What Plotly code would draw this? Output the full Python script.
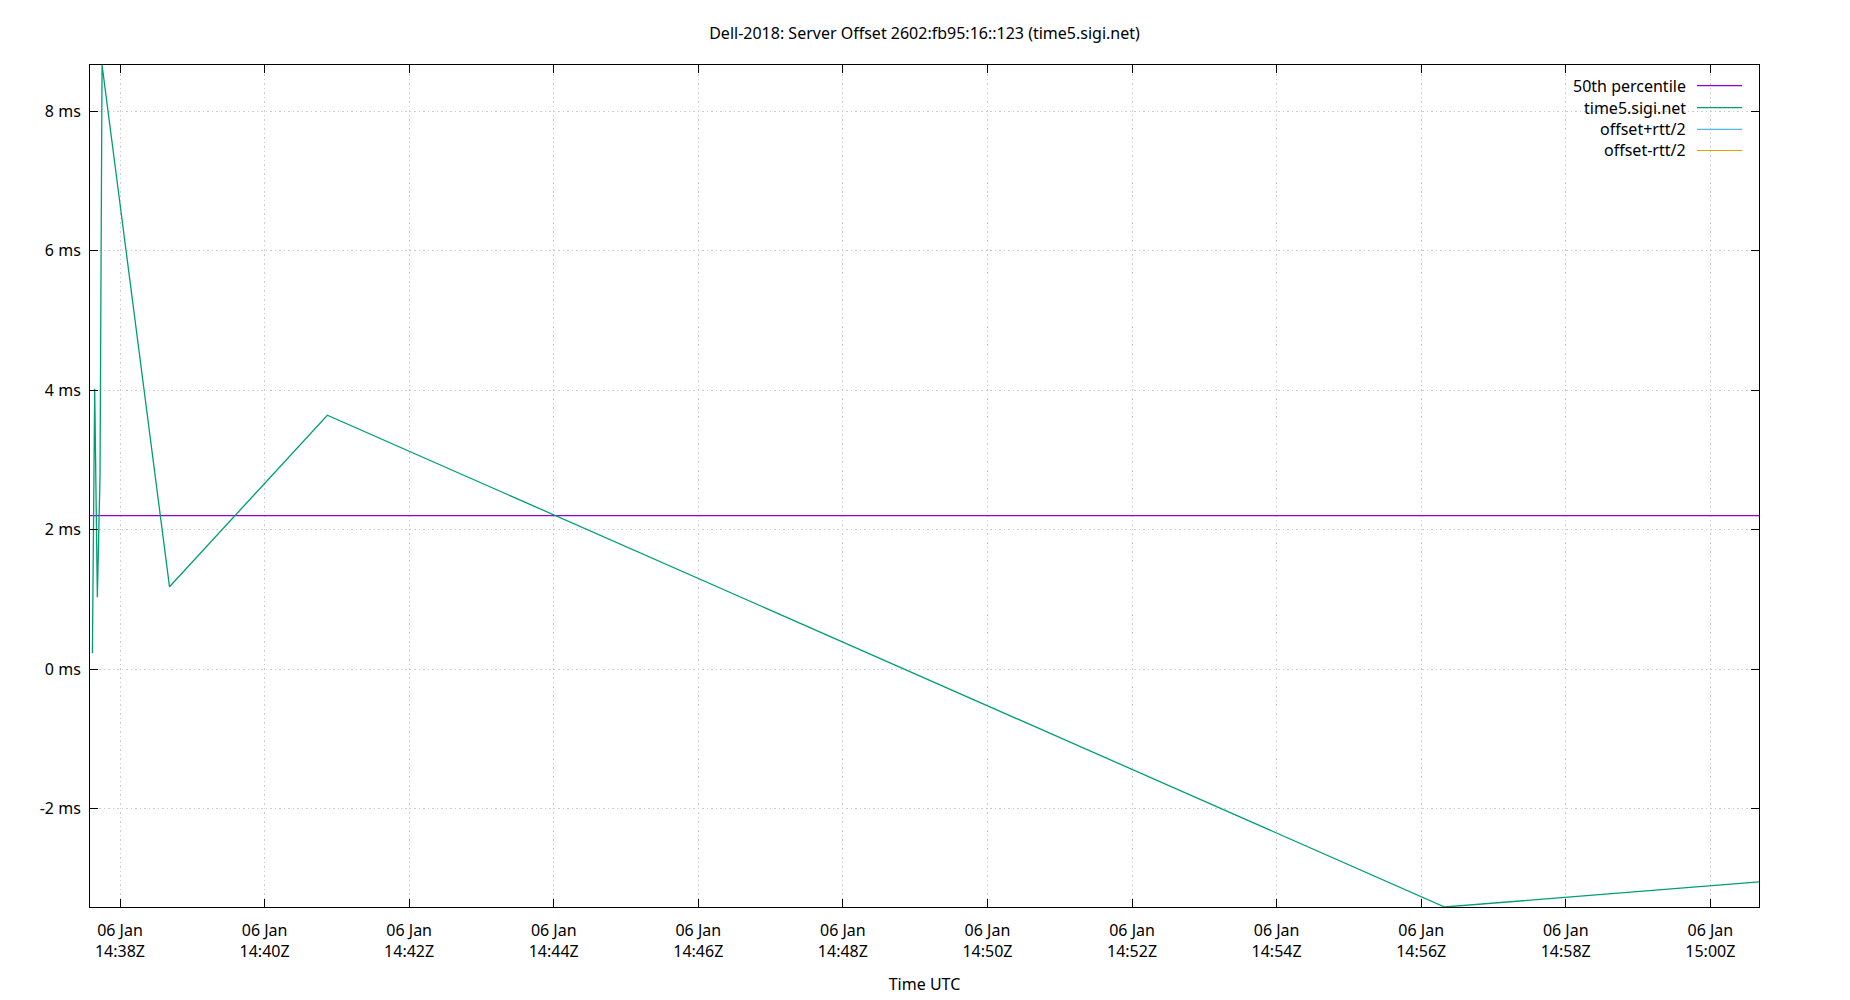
import plotly.graph_objects as go

# ---- data ----
offset_times = [
    "2025-01-06 14:37:37.1",
    "2025-01-06 14:37:39.0",
    "2025-01-06 14:37:41.2",
    "2025-01-06 14:37:43.4",
    "2025-01-06 14:37:45.1",
    "2025-01-06 14:38:41.1",
    "2025-01-06 14:40:52.1",
    "2025-01-06 14:56:19.5",
    "2025-01-06 15:00:40.4",
]
offset_ms = [0.23, 4.02, 1.03, 2.76, 8.66, 1.18, 3.64, -3.41, -3.05]

percentile_50_ms = 2.20

# series present in the legend, with no visible points
rtt_plus_times = []
rtt_plus_ms = []
rtt_minus_times = []
rtt_minus_ms = []

y_tick_vals = [-2, 0, 2, 4, 6, 8]
y_tick_text = ["-2 ms", "0 ms", "2 ms", "4 ms", "6 ms", "8 ms"]

legend_names = ["50th percentile", "time5.sigi.net", "offset+rtt/2", "offset-rtt/2"]
legend_colors = ["#9400d3", "#009e73", "#56b4e9", "#e69f00"]

x_range = ["2025-01-06 14:37:35.1", offset_times[-1]]

# ---- layout geometry (pixels) ----
W, H = 1850, 1000
L, R, T, B = 90, 91, 65, 93
PW, PH = W - L - R, H - T - B
FONT = "Noto Sans"


def px_x(px):
    return (px - L) / PW


def px_y(py):
    return (H - B - py) / PH


fig = go.Figure()

fig.add_trace(go.Scatter(
    x=[x_range[0], x_range[1]], y=[percentile_50_ms, percentile_50_ms],
    mode="lines", name=legend_names[0],
    line=dict(color=legend_colors[0], width=1.2), showlegend=False))
fig.add_trace(go.Scatter(
    x=offset_times, y=offset_ms, mode="lines", name=legend_names[1],
    line=dict(color=legend_colors[1], width=1.3), showlegend=False))
fig.add_trace(go.Scatter(
    x=rtt_plus_times, y=rtt_plus_ms, mode="lines", name=legend_names[2],
    line=dict(color=legend_colors[2], width=1.2), showlegend=False))
fig.add_trace(go.Scatter(
    x=rtt_minus_times, y=rtt_minus_ms, mode="lines", name=legend_names[3],
    line=dict(color=legend_colors[3], width=1.2), showlegend=False))

# legend drawn gnuplot-style: text right-aligned, sample line to the right
shapes = [dict(type="rect", xref="paper", yref="paper",
               x0=px_x(1553), x1=px_x(1752), y0=px_y(160), y1=px_y(66),
               fillcolor="white", line=dict(width=0), layer="between")]
annotations = []
row_y = [85.7, 107.7, 129.3, 150.5]
for name, color, ry in zip(legend_names, legend_colors, row_y):
    annotations.append(dict(
        text=name, xref="paper", yref="paper", x=px_x(1688), y=px_y(ry),
        xanchor="right", yanchor="middle", showarrow=False,
        font=dict(family=FONT, size=16, color="black")))
    shapes.append(dict(type="line", xref="paper", yref="paper",
                       x0=px_x(1697), x1=px_x(1742), y0=px_y(ry), y1=px_y(ry),
                       line=dict(color=color, width=1.2), layer="above"))

axis_common = dict(
    showline=True, linecolor="black", linewidth=1, mirror="ticks",
    ticks="inside", ticklen=8, tickwidth=1, tickcolor="black",
    showgrid=True, gridcolor="#cccccc", griddash="1.5px,3px", gridwidth=1,
    zeroline=False,
    tickfont=dict(family=FONT, size=16, color="black"),
)

fig.update_layout(
    width=W, height=H,
    margin=dict(l=L, r=R, t=T, b=B, autoexpand=False),
    paper_bgcolor="white", plot_bgcolor="white",
    font=dict(family=FONT, size=16, color="black"),
    title=dict(text="Dell-2018: Server Offset 2602:fb95:16::123 (time5.sigi.net)",
               x=px_x((L + W - R) / 2), xref="paper", xanchor="center",
               y=1 - 33 / H, yref="container", yanchor="middle",
               font=dict(family=FONT, size=16, color="black")),
    xaxis=dict(
        type="date", range=x_range,
        tick0="2025-01-06 14:38:00", dtick=120000,
        tickformat="%d %b<br>%H:%MZ",
        ticklabelstandoff=9,
        title=dict(text="Time UTC", standoff=17,
                   font=dict(family=FONT, size=16, color="black")),
        **axis_common),
    yaxis=dict(
        range=[min(offset_ms), max(offset_ms)],
        tickmode="array", tickvals=y_tick_vals, ticktext=y_tick_text,
        ticklabelstandoff=5,
        **axis_common),
    shapes=shapes,
    annotations=annotations,
    showlegend=False,
)

fig.write_html("out.html",
               config={"displayModeBar": False},
               post_script="document.body.style.margin='0px';")
